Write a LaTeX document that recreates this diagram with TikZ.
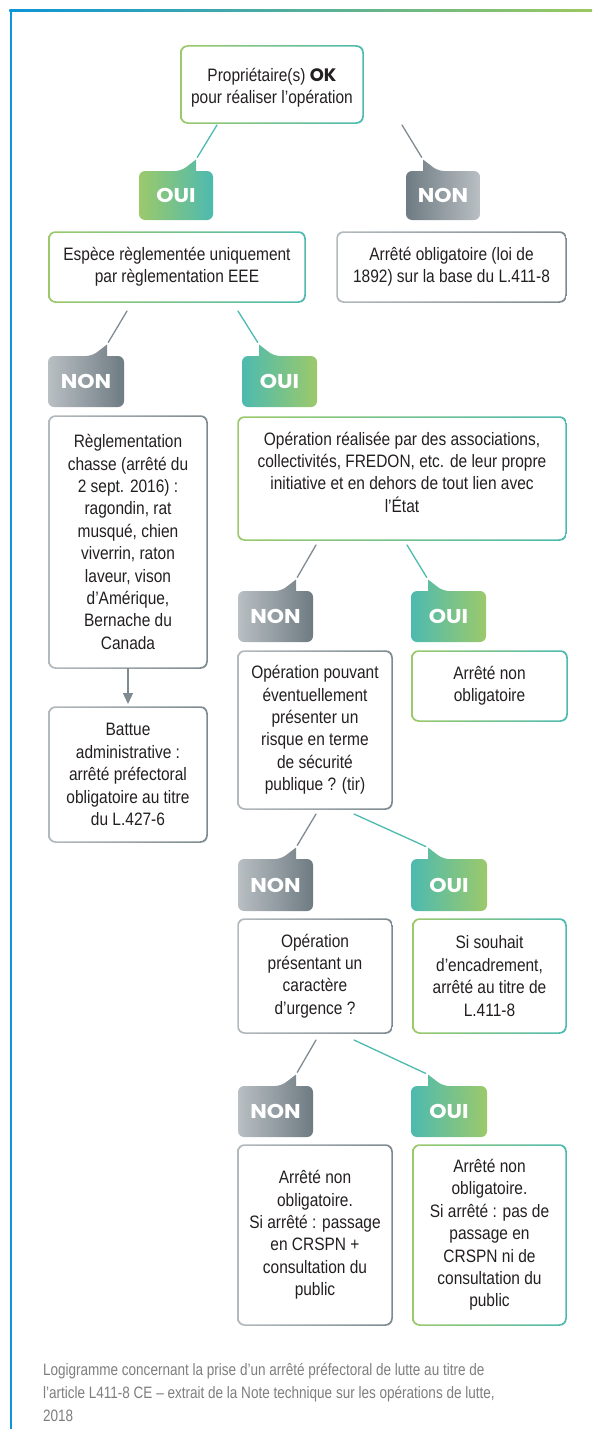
\documentclass[tikz,border=0pt]{standalone}
\usepackage{fontspec}
\setmainfont{Liberation Sans}[FakeStretch=0.86]
\newfontfamily\badgefont{Poppins}[FakeStretch=1.1]
\newfontfamily\okfont{Poppins}
\newfontfamily\capfont{Liberation Sans}[FakeStretch=0.82]
\usetikzlibrary{calc,arrows.meta}
\pgfdeclarelayer{bg}
\pgfsetlayers{bg,main}
\definecolor{cgreen}{HTML}{9CC96B}
\definecolor{cteal}{HTML}{4DBAAF}
\definecolor{cgdark}{HTML}{6E7B82}
\definecolor{cglight}{HTML}{B9BFC3}
\definecolor{cbl}{HTML}{B3BABE}
\definecolor{cbd}{HTML}{7E8A90}
\definecolor{cline}{HTML}{7F8B91}
\definecolor{cblue}{HTML}{0C95D8}
\definecolor{cmid}{HTML}{5DBCAE}
\definecolor{cfgreen}{HTML}{9BC85E}
\definecolor{ctext}{HTML}{231F20}
\definecolor{ccap}{HTML}{7E7E7E}
\tikzset{
  box/.style={anchor=north west, inner sep=0pt, outer sep=0pt, align=center,
    font=\fontsize{18}{22.4}\selectfont, text=ctext},
  badge/.style={anchor=north west, inner sep=0pt, outer sep=0pt,
    font=\badgefont\bfseries\fontsize{20}{20}\selectfont, text=white},
  conn/.style={line width=1.3pt, line cap=round, shorten >=2.5pt},
  yesline/.style={conn, draw=cteal},
  noline/.style={conn, draw=cline},
  captxt/.style={anchor=north west, inner sep=0pt, outer sep=0pt, align=left,
    font=\capfont\fontsize{16.5}{23}\selectfont, text=ccap}
}
\newcommand\mybox[6]{%
  \node[box, minimum width=#4pt, minimum height=#5pt] (#1) at (#2,#3) {#6};}
\newcommand\gring[3]{%
  \shade[left color=#2, right color=#3, even odd rule, rounded corners=7pt]
    ($(#1.north west)+(-0.75,-0.75)$) rectangle ($(#1.south east)+(0.75,0.75)$)
    [rounded corners=6.3pt]
    ($(#1.north west)+(0.75,0.75)$) rectangle ($(#1.south east)+(-0.75,-0.75)$);}
\newcommand\badgeR[8]{%
  \node[badge, minimum width=#4pt, minimum height=#5pt] (#1) at (#2,#3) {#6};
  \coordinate (#1t) at ($(#1.north east)+(-17,-11.5)$);
  \begin{pgfonlayer}{bg}
  \shade[left color=#7, right color=#8] (#1.west) [rounded corners=6pt]
    |- ($(#1.north east)+(-32,0)$) [sharp corners] -- (#1t)
    -- ($(#1.north east)+(-17,0)$) [rounded corners=6pt]
    -| (#1.south east) -| (#1.west) -- cycle;
  \end{pgfonlayer}}
\newcommand\badgeL[8]{%
  \node[badge, minimum width=#4pt, minimum height=#5pt] (#1) at (#2,#3) {#6};
  \coordinate (#1t) at ($(#1.north west)+(17,-11.5)$);
  \begin{pgfonlayer}{bg}
  \shade[left color=#7, right color=#8] (#1.east) [rounded corners=6pt]
    |- ($(#1.north west)+(32,0)$) [sharp corners] -- (#1t)
    -- ($(#1.north west)+(17,0)$) [rounded corners=6pt]
    -| (#1.south west) -| (#1.east) -- cycle;
  \end{pgfonlayer}}
\begin{document}
\begin{tikzpicture}[x=1pt, y=-1pt]
\useasboundingbox (0,0) rectangle (592,1429);
% frame
\shade[left color=cblue, middle color=cmid, right color=cfgreen] (9.3,9.2) rectangle (592,11.6);
\fill[cblue] (9.5,9.2) rectangle (11.6,1429);
% boxes
\mybox{top}{181}{46}{182}{77}{\rule{0pt}{20pt}Propriétaire(s) {\okfont\bfseries OK}\\pour réaliser l’opération}
\mybox{espece}{49}{232}{256}{70}{Espèce règlementée uniquement\\par règlementation EEE}
\mybox{arrob}{337}{232}{229}{70}{Arrêté obligatoire (loi de\\1892) sur la base du L.411-8}
\mybox{chasse}{49}{416}{158}{252}{Règlementation\\chasse (arrêté du\\2 sept. 2016) :\\ragondin, rat\\musqué, chien\\viverrin, raton\\laveur, vison\\d’Amérique,\\Bernache du\\Canada}
\mybox{battue}{49}{707}{158}{135}{Battue\\administrative :\\arrêté préfectoral\\obligatoire au titre\\du L.427-6}
\mybox{opreal}{238}{417}{328}{123}{Opération réalisée par des associations,\\collectivités, FREDON, etc. de leur propre\\initiative et en dehors de tout lien avec\\l’État\rule[-13pt]{0pt}{1pt}}
\mybox{pouvant}{238}{651}{154}{158}{Opération pouvant\\éventuellement\\présenter un\\risque en terme\\de sécurité\\publique ? (tir)}
\mybox{arrnon}{412}{651}{155}{70}{Arrêté non\\obligatoire}
\mybox{presentant}{238}{919}{154}{114}{Opération\\présentant un\\caractère\\d’urgence ?}
\mybox{souhait}{413}{919}{153}{114}{Si souhait\\d’encadrement,\\arrêté au titre de\\L.411-8}
\mybox{finnon}{238}{1145}{154}{180}{Arrêté non\\obligatoire.\\Si arrêté : passage\\en CRSPN +\\consultation du\\public}
\mybox{finoui}{413}{1145}{153}{180}{Arrêté non\\obligatoire.\\Si arrêté : pas de\\passage en\\CRSPN ni de\\consultation du\\public}
% box borders
\gring{top}{cgreen}{cteal}
\gring{espece}{cgreen}{cteal}
\gring{arrob}{cbl}{cbd}
\gring{chasse}{cbl}{cbd}
\gring{battue}{cbl}{cbd}
\gring{opreal}{cgreen}{cteal}
\gring{pouvant}{cbl}{cbd}
\gring{arrnon}{cgreen}{cteal}
\gring{presentant}{cbl}{cbd}
\gring{souhait}{cgreen}{cteal}
\gring{finnon}{cbl}{cbd}
\gring{finoui}{cgreen}{cteal}
% badges
\badgeR{b1}{139}{171}{74}{49}{OUI}{cgreen}{cteal}
\badgeL{b2}{406}{171}{74}{49}{NON}{cgdark}{cglight}
\badgeR{b3}{48}{356}{76}{51}{NON}{cglight}{cgdark}
\badgeL{b4}{242}{356}{75}{51}{OUI}{cteal}{cgreen}
\badgeR{b5}{238}{591}{75}{51}{NON}{cglight}{cgdark}
\badgeL{b6}{411}{591}{75}{51}{OUI}{cteal}{cgreen}
\badgeR{b7}{238}{859}{75}{52}{NON}{cglight}{cgdark}
\badgeL{b8}{411}{859}{76}{52}{OUI}{cteal}{cgreen}
\badgeR{b9}{238}{1086}{75}{51}{NON}{cglight}{cgdark}
\badgeL{b10}{411}{1086}{76}{51}{OUI}{cteal}{cgreen}
% connectors
\draw[yesline] ($(top.south west)+(36,2)$) -- (b1t);
\draw[noline] ($(top.south east)+(39,2)$) -- (b2t);
\draw[noline] ($(espece.south west)+(78,9)$) -- (b3t);
\draw[yesline] ($(espece.south west)+(189,9)$) -- (b4t);
\draw[noline] ($(opreal.south west)+(78,5)$) -- (b5t);
\draw[yesline] ($(opreal.south west)+(169,5)$) -- (b6t);
\draw[noline] ($(pouvant.south west)+(78,5)$) -- (b7t);
\draw[yesline] ($(pouvant.south west)+(116,5)$) -- (b8t);
\draw[noline] ($(presentant.south west)+(78,7)$) -- (b9t);
\draw[yesline] ($(presentant.south west)+(116,7)$) -- (b10t);
\draw[line width=1.3pt, draw=cline, -{Triangle[length=11pt,width=10pt]}, shorten >=3pt] (chasse.south) -- (battue.north);
% caption
\node[captxt] (cap) at (43,1363) {Logigramme concernant la prise d’un arrêté préfectoral de lutte au titre de\\l’article L411-8 CE – extrait de la Note technique sur les opérations de lutte,\\2018};
\end{tikzpicture}
\end{document}
